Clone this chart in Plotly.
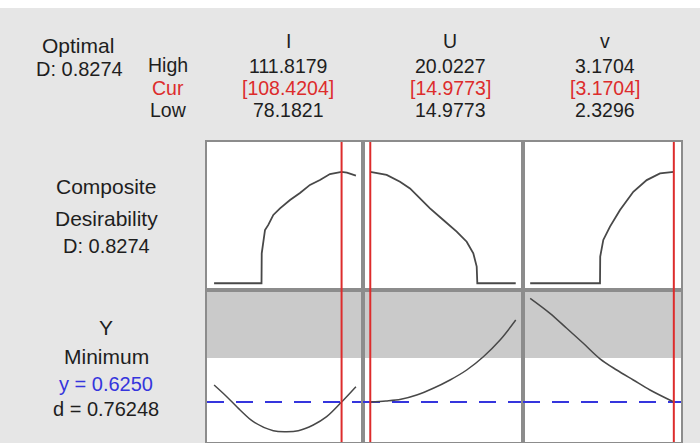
import plotly.graph_objects as go

W, H = 700, 443

# ---- factor settings ----
factor_names = ["I", "U", "v"]
factor_high = [111.8179, 20.0227, 3.1704]
factor_cur = [108.4204, 14.9773, 3.1704]
factor_low = [78.1821, 14.9773, 2.3296]

# ---- composite desirability traces ----
d_I_x = [78.1821, 89.43, 89.48, 90.26, 91.04, 92.23, 93.82, 96.19, 98.55, 100.92, 103.29, 105.66, 108.4204, 109.69, 111.8179]
d_I_y = [0.0, 0.0, 0.223, 0.396, 0.434, 0.508, 0.557, 0.619, 0.671, 0.731, 0.768, 0.812, 0.8274, 0.822, 0.80]

d_U_x = [14.9773, 15.546, 16.008, 16.355, 16.702, 17.049, 17.511, 17.975, 18.322, 18.551, 18.669, 18.690, 20.0227]
d_U_y = [0.8274, 0.805, 0.755, 0.705, 0.631, 0.557, 0.470, 0.384, 0.309, 0.223, 0.124, 0.0, 0.0]

d_v_x = [2.3296, 2.7383, 2.7395, 2.7576, 2.7968, 2.8554, 2.9332, 3.0117, 3.0896, 3.1704]
d_v_y = [0.0, 0.0, 0.198, 0.322, 0.421, 0.545, 0.680, 0.767, 0.817, 0.8274]

# ---- response Y traces ----
y_I_x = [78.1821, 81.19, 84.34, 87.49, 92.23, 95.40, 98.15, 101.70, 104.88, 108.4204, 111.8179]
y_I_y = [0.659, 0.6356, 0.609, 0.5856, 0.5676, 0.5656, 0.5676, 0.579, 0.5956, 0.625, 0.6556]

y_U_x = [14.9773, 15.52, 16.039, 16.587, 17.163, 17.743, 18.322, 18.900, 19.479, 20.0227]
y_U_y = [0.625, 0.627, 0.6304, 0.639, 0.6524, 0.669, 0.689, 0.7156, 0.749, 0.789]

y_v_x = [2.3296, 2.4455, 2.5433, 2.6405, 2.7383, 2.8360, 2.9332, 3.0310, 3.1704]
y_v_y = [0.8324, 0.8024, 0.7724, 0.7424, 0.7114, 0.689, 0.669, 0.649, 0.625]

y_opt = 0.6250
y_upper = 0.713  # above this desirability is 0 (shaded)
y_axis_range = [0.545, 0.849]
d_axis_range = [-0.05, 1.05]

D_text = "D: 0.8274"
d_text = "d = 0.76248"

d_x = [d_I_x, d_U_x, d_v_x]
d_y = [d_I_y, d_U_y, d_v_y]
r_x = [y_I_x, y_U_x, y_v_x]
r_y = [y_I_y, y_U_y, y_v_y]

# ---- layout geometry (pixels) ----
col_px = [(207, 363), (363, 523), (523, 681)]
top_row_px = (142, 290)
bot_row_px = (290, 442)

def px_x(p):
    return p / W

def px_y(p):
    return 1 - p / H

fig = go.Figure()

FRAME = "#8c8c8c"
CURVE = "#484848"
RED = "#dd2c2c"
BLUE = "#3535dd"
TXT = "#1e1e1e"
FONT = "Liberation Sans"

def ax_name(letter, idx):
    return letter if idx == 1 else f"{letter}{idx}"

layout_axes = {}
shapes = []
for i in range(3):
    lo, hi = factor_low[i], factor_high[i]
    span = hi - lo
    xr = [lo - 0.05 * span, hi + 0.05 * span]
    it, ib = 2 * i + 1, 2 * i + 2
    xa_top, xa_bot = ax_name("x", it), ax_name("x", ib)
    ya_top, ya_bot = ax_name("y", it), ax_name("y", ib)
    xdom = [px_x(col_px[i][0]), px_x(col_px[i][1])]
    ydom_top = [px_y(top_row_px[1]), px_y(top_row_px[0])]
    ydom_bot = [px_y(bot_row_px[1]), px_y(bot_row_px[0])]
    ax_common = dict(showgrid=False, zeroline=False, showticklabels=False, ticks="",
                     showline=True, mirror=True, linecolor=FRAME, linewidth=2, fixedrange=True)
    layout_axes[ax_name("xaxis", it)] = dict(domain=xdom, range=xr, anchor=ya_top, **ax_common)
    layout_axes[ax_name("xaxis", ib)] = dict(domain=xdom, range=xr, anchor=ya_bot, **ax_common)
    layout_axes[ax_name("yaxis", it)] = dict(domain=ydom_top, range=d_axis_range, anchor=xa_top, **ax_common)
    layout_axes[ax_name("yaxis", ib)] = dict(domain=ydom_bot, range=y_axis_range, anchor=xa_bot, **ax_common)

    # shaded region (Y above upper bound)
    shapes.append(dict(type="rect", xref=f"{xa_bot} domain", yref=ya_bot,
                       x0=0, x1=1, y0=y_upper, y1=y_axis_range[1],
                       fillcolor="#cacaca", line=dict(width=0), layer="below"))

    fig.add_trace(go.Scatter(x=d_x[i], y=d_y[i], mode="lines", xaxis=xa_top, yaxis=ya_top,
                             line=dict(color=CURVE, width=1.8), showlegend=False, hoverinfo="skip"))
    fig.add_trace(go.Scatter(x=xr, y=[y_opt, y_opt], mode="lines", xaxis=xa_bot, yaxis=ya_bot,
                             line=dict(color=BLUE, width=2, dash="17px,12px"), showlegend=False, hoverinfo="skip"))
    fig.add_trace(go.Scatter(x=r_x[i], y=r_y[i], mode="lines", xaxis=xa_bot, yaxis=ya_bot,
                             line=dict(color=CURVE, width=1.5, shape="spline"), showlegend=False, hoverinfo="skip"))
    for xa, ya in ((xa_top, ya_top), (xa_bot, ya_bot)):
        shapes.append(dict(type="line", xref=xa, yref=f"{ya} domain",
                           x0=factor_cur[i], x1=factor_cur[i], y0=0, y1=1,
                           line=dict(color=RED, width=2), layer="above"))

shapes.append(dict(type="rect", xref="paper", yref="paper", x0=0, x1=1,
                   y0=px_y(8), y1=1, fillcolor="white", line=dict(width=0), layer="below"))

annotations = []

def txt(s, x, y, color=TXT, size=21):
    annotations.append(dict(text=s, x=px_x(x), y=px_y(y), xref="paper", yref="paper",
                            xanchor="center", yanchor="middle", showarrow=False,
                            font=dict(family=FONT, size=size, color=color)))

txt("Optimal", 78, 45)
txt(D_text, 79, 69, size=20)
txt("High", 168, 65, size=19.5)
txt("Cur", 168, 88, color=RED, size=19.5)
txt("Low", 168, 110, size=19.5)

col_centers = [288, 450, 605]
for i in range(3):
    cx = col_centers[i]
    txt(factor_names[i], cx, 41, size=19.5)
    txt(f"{factor_high[i]:.4f}", cx, 66, size=19.5)
    txt(f"[{factor_cur[i]:.4f}]", cx, 88, color=RED, size=19.5)
    txt(f"{factor_low[i]:.4f}", cx, 110, size=19.5)

txt("Composite", 106, 187)
txt("Desirability", 106, 218)
txt(D_text, 106, 246, size=20)
txt("Y", 106, 327)
txt("Minimum", 106, 356)
txt(f"y = {y_opt:.4f}", 106, 384, color=BLUE, size=20)
txt(d_text, 106, 409, size=20)

fig.update_layout(width=W, height=H, margin=dict(l=0, r=0, t=0, b=0),
                  paper_bgcolor="#e6e6e6", plot_bgcolor="white",
                  shapes=shapes, annotations=annotations, showlegend=False,
                  **layout_axes)

fig.write_html("out.html", config={"displayModeBar": False})
